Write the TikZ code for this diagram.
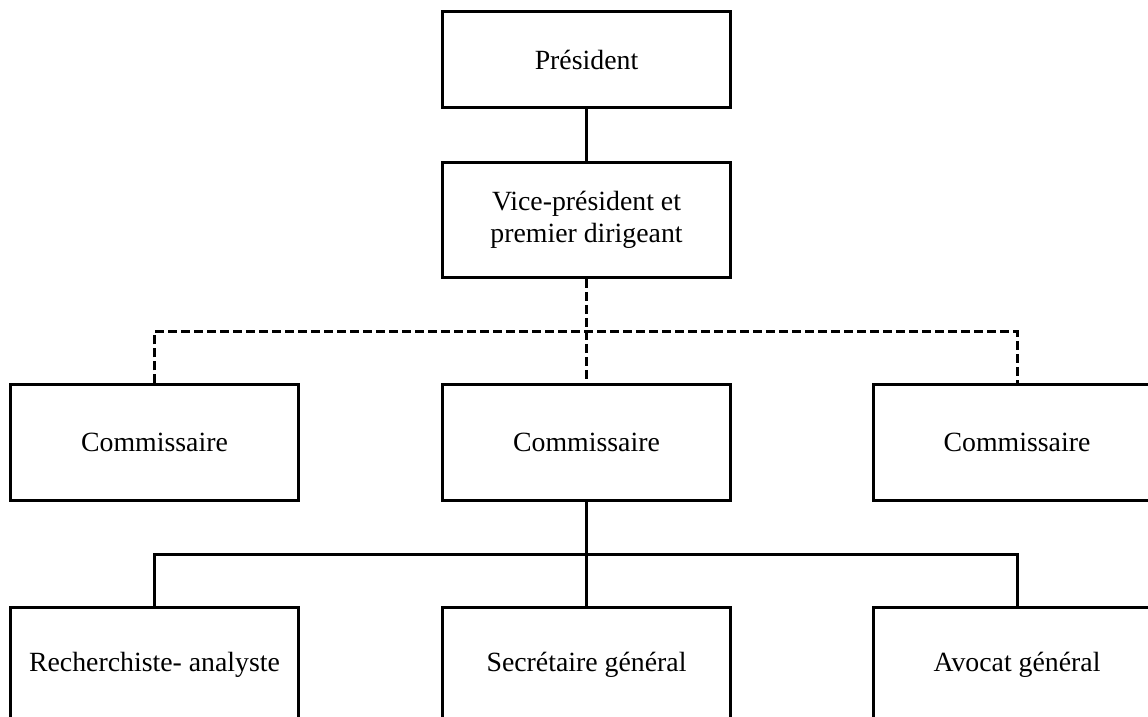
\documentclass[tikz,border=0pt]{standalone}
\usepackage{fontspec}
\setmainfont{Liberation Serif}
\begin{document}
\begin{tikzpicture}[x=0.5pt,y=-0.5pt,
  box/.style={draw, line width=1.5pt, minimum width=144pt, minimum height=57.5pt, inner sep=0pt, align=center, font=\fontsize{13.9}{14.5}\selectfont},
  link/.style={line width=1.5pt},
  dlink/.style={line width=1.5pt, dash pattern=on 4.5pt off 2pt}]
\clip (0,0) rectangle (1148,717);
\node[box, minimum height=48pt] (pres) at (586.5,60) {Président};
\node[box] (vice) at (586.5,220) {Vice-président et\\[1.2pt]premier dirigeant};
\node[box] (c1) at (154.5,442.5) {Commissaire};
\node[box] (c2) at (586.5,442.5) {Commissaire};
\node[box] (c3) at (1017,442.5) {Commissaire};
\node[box] (b1) at (154.5,665) {Recherchiste- analyste};
\node[box] (b2) at (586.5,665) {Secrétaire général};
\node[box] (b3) at (1017,665) {Avocat général};
\coordinate (dj) at (586.5,332);
\coordinate (sj) at (586.5,554);
\draw[link] (pres) -- (vice);
\draw[dlink] (vice.south) -- (c2.north);
\draw[dlink] (c1.north) -- (c1.north |- dj) -- (c3.north |- dj) -- (c3.north);
\draw[link] (c2.south) -- (b2.north);
\draw[link] (b1.north) -- (b1.north |- sj) -- (b3.north |- sj) -- (b3.north);
\end{tikzpicture}
\end{document}
